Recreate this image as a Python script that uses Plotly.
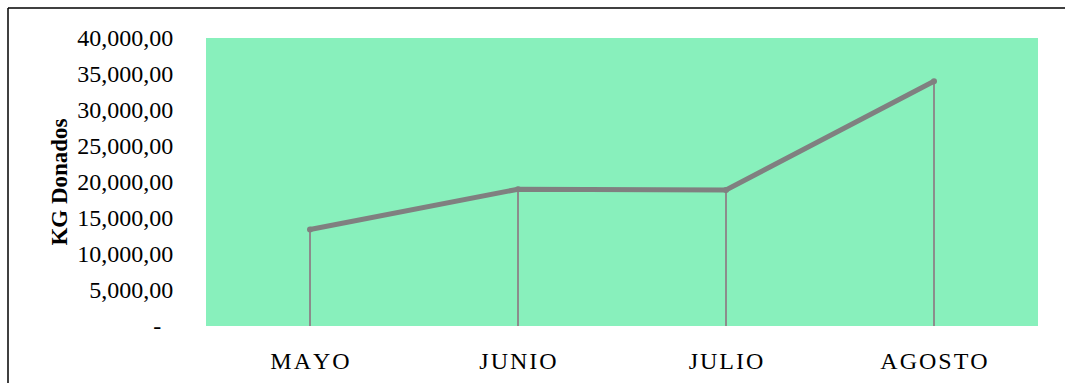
import plotly.graph_objects as go

# Monthly donated kilograms
meses = ["MAYO", "JUNIO", "JULIO", "AGOSTO"]
kg_donados = [13400, 19000, 18900, 34000]

# Axis ticks
y_ticks = [0, 5000, 10000, 15000, 20000, 25000, 30000, 35000, 40000]
y_tick_text = ["-\u00a0\u00a0", "5,000,00", "10,000,00", "15,000,00", "20,000,00",
               "25,000,00", "30,000,00", "35,000,00", "40,000,00"]
x_tick_text = ["\u200a".join(m) for m in meses]

W, H = 1065, 383
L, R, T, B = 206, 27, 38, 57
pw, ph = W - L - R, H - T - B

fig = go.Figure()

# Line with vertical drop lines down to the axis
fig.add_trace(go.Scatter(
    x=meses, y=kg_donados, mode="lines+markers",
    line=dict(color="#808080", width=5),
    marker=dict(color="#808080", size=6),
    error_y=dict(type="data", symmetric=False,
                 array=[0] * len(kg_donados), arrayminus=kg_donados,
                 color="#8c8c8c", thickness=2, width=0),
    hoverinfo="x+y", showlegend=False,
))

# Frame around the chart area (left and top edges)
px = lambda v: (v - L) / pw
py = lambda v: 1 - (v - T) / ph
fig.add_shape(type="line", xref="paper", yref="paper",
              x0=px(8), x1=px(W + 5), y0=py(8), y1=py(8),
              line=dict(color="black", width=1.5))
fig.add_shape(type="line", xref="paper", yref="paper",
              x0=px(8), x1=px(8), y0=py(8), y1=py(H + 5),
              line=dict(color="black", width=1.5))

fig.update_layout(
    width=W, height=H,
    margin=dict(l=L, r=R, t=T, b=B),
    paper_bgcolor="white",
    plot_bgcolor="#88F0BC",
    font=dict(family="Liberation Serif, Times New Roman, serif", color="black"),
    xaxis=dict(
        type="category", range=[-0.5, 3.5], automargin=False,
        tickvals=meses, ticktext=x_tick_text,
        tickfont=dict(size=24), showgrid=False, zeroline=False,
        showline=False, ticks="outside", ticklen=13, tickcolor="rgba(0,0,0,0)",
    ),
    yaxis=dict(
        range=[0, 40000], tickvals=y_ticks, ticktext=y_tick_text, automargin=False,
        tickfont=dict(size=24), showgrid=False, zeroline=False,
        showline=False, ticks="outside", ticklen=27, tickcolor="rgba(0,0,0,0)",
        title=dict(text="<b>KG Donados</b>", font=dict(size=23), standoff=3),
    ),
)

fig.write_html("out.html")
